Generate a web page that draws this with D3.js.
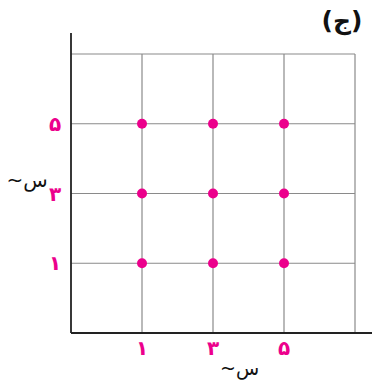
<!DOCTYPE html>
<html>
<head>
<meta charset="utf-8">
<script src="https://cdn.jsdelivr.net/npm/d3@7"></script>
<style>
	body { margin: 0; background: #fff; }
	svg { display: block; font-family: "DejaVu Sans", sans-serif; }
</style>
</head>
<body>
<div id="graph"></div>
<script>
// chart data
const xValues = [1, 3, 5];
const yValues = [1, 3, 5];
const gridValues = [1, 3, 5, 7];
const xTickLabels = ["۱", "۳", "۵"];
const yTickLabels = ["۱", "۳", "۵"];
const axisName = "~س";
const title = "(ج)";

const width = 384, height = 381;
const pink = "#ec008c";

const points = [];
xValues.forEach(x => yValues.forEach(y => points.push({x: x, y: y})));

const graph = d3.select("div#graph")
	.append("svg")
	.attr("width", width)
	.attr("height", height);

const xScale = d3.scaleLinear().domain([-1, 7]).range([71, 355]);
const yScale = d3.scaleLinear().domain([-1, 7]).range([333, 54]);

// grid
graph.selectAll("line.vgrid").data(gridValues).enter()
	.append("line")
	.attr("class", "vgrid")
	.attr("x1", d => xScale(d)).attr("x2", d => xScale(d))
	.attr("y1", yScale(7)).attr("y2", yScale(-1))
	.attr("stroke", "#8a8a8a")
	.attr("stroke-width", 1.2);

graph.selectAll("line.hgrid").data(gridValues).enter()
	.append("line")
	.attr("class", "hgrid")
	.attr("x1", xScale(-1)).attr("x2", xScale(7))
	.attr("y1", d => yScale(d)).attr("y2", d => yScale(d))
	.attr("stroke", "#8a8a8a")
	.attr("stroke-width", 1.2);

// axes
graph.append("line")
	.attr("x1", xScale(-1)).attr("x2", xScale(7) + 17)
	.attr("y1", yScale(-1)).attr("y2", yScale(-1))
	.attr("stroke", "#222").attr("stroke-width", 1.8);

graph.append("line")
	.attr("x1", xScale(-1)).attr("x2", xScale(-1))
	.attr("y1", yScale(-1)).attr("y2", yScale(7) - 21)
	.attr("stroke", "#222").attr("stroke-width", 1.8);

// tick labels
graph.selectAll("text.xtick").data(xValues).enter()
	.append("text")
	.attr("class", "xtick")
	.attr("x", d => xScale(d))
	.attr("y", 355)
	.attr("text-anchor", "middle")
	.attr("font-size", 20)
	.attr("font-weight", "bold")
	.attr("fill", pink)
	.text((d, i) => xTickLabels[i]);

graph.selectAll("text.ytick").data(yValues).enter()
	.append("text")
	.attr("class", "ytick")
	.attr("x", 55)
	.attr("y", d => yScale(d) + 7)
	.attr("text-anchor", "middle")
	.attr("font-size", 20)
	.attr("font-weight", "bold")
	.attr("fill", pink)
	.text((d, i) => yTickLabels[i]);

// axis names
graph.append("text")
	.attr("x", 220).attr("y", 375)
	.attr("text-anchor", "start")
	.attr("font-size", 19)
	.attr("fill", "#111")
	.text(axisName);

graph.append("text")
	.attr("x", 27).attr("y", 187)
	.attr("text-anchor", "middle")
	.attr("font-size", 20)
	.attr("fill", "#111")
	.text(axisName);

graph.append("text")
	.attr("x", 342).attr("y", 29)
	.attr("text-anchor", "middle")
	.attr("font-size", 25)
	.attr("font-weight", "bold")
	.attr("fill", "#111")
	.text(title);

// points
graph.selectAll("circle").data(points).enter()
	.append("circle")
	.attr("cx", d => xScale(d.x))
	.attr("cy", d => yScale(d.y))
	.attr("r", 5)
	.attr("fill", pink);
</script>
</body>
</html>
